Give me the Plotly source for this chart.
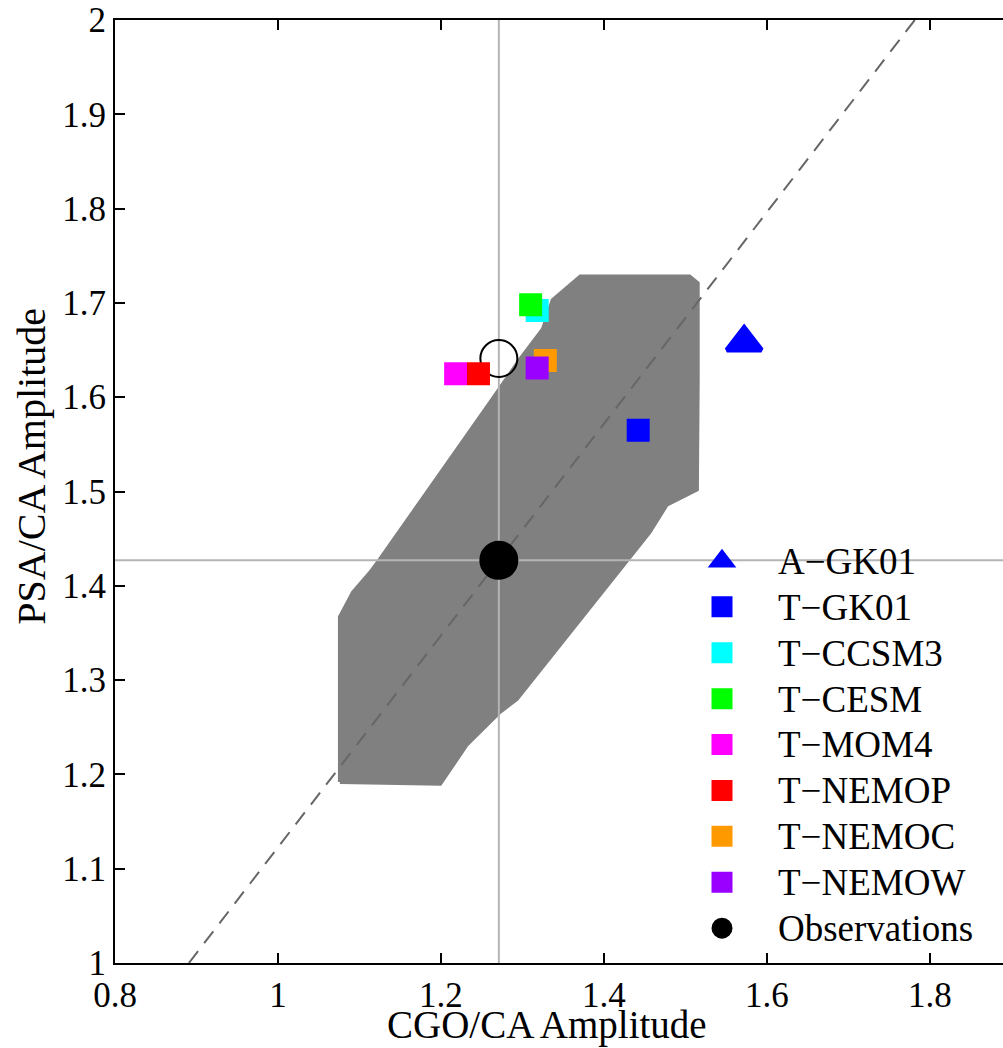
import plotly.graph_objects as go

# ---- data ----
model_names = ["A\u2212GK01", "T\u2212GK01", "T\u2212CCSM3", "T\u2212CESM", "T\u2212MOM4",
               "T\u2212NEMOP", "T\u2212NEMOC", "T\u2212NEMOW"]
model_x = [1.572, 1.442, 1.318, 1.310, 1.218, 1.246, 1.328, 1.318]
model_y = [1.658, 1.565, 1.692, 1.698, 1.625, 1.625, 1.639, 1.631]
model_colors = ["#0000FF", "#0000FF", "#00FFFF", "#00FF00", "#FF00FF",
                "#FF0000", "#FF9900", "#9900FF"]
model_symbols = ["triangle-up"] + ["square"] * 7

obs_name = "Observations"
obs_x = 1.271
obs_y = 1.427
open_x = 1.271
open_y = 1.641

# outline of the dense grey ensemble cloud
cloud_x = [1.076, 1.199, 1.232, 1.272, 1.293, 1.456, 1.477, 1.514, 1.515, 1.515,
           1.505, 1.371, 1.337, 1.325, 1.297, 1.260, 1.125, 1.113, 1.092, 1.076]
cloud_y = [1.192, 1.190, 1.232, 1.266, 1.280, 1.457, 1.486, 1.502, 1.619, 1.721,
           1.728, 1.728, 1.703, 1.672, 1.640, 1.594, 1.428, 1.414, 1.393, 1.367]

x_range = [0.8, 1.8896]
y_range = [1.0, 2.0]
x_ticks = [0.8, 1.0, 1.2, 1.4, 1.6, 1.8]
y_ticks = [1.0, 1.1, 1.2, 1.3, 1.4, 1.5, 1.6, 1.7, 1.8, 1.9, 2.0]
x_title = "CGO/CA Amplitude"
y_title = "PSA/CA Amplitude"

FONT = "Liberation Serif, Times New Roman, serif"
MLW = 5  # marker outline width (same colour as fill)


def leg(txt):
    return f"<span style='font-size:37px'>{txt}</span>"


fig = go.Figure()

# cloud
fig.add_trace(go.Scatter(x=cloud_x + [cloud_x[0]], y=cloud_y + [cloud_y[0]],
                         mode="lines", fill="toself", fillcolor="#808080",
                         line=dict(color="#808080", width=4),
                         showlegend=False, hoverinfo="skip"))

# reference cross lines
fig.add_trace(go.Scatter(x=[obs_x, obs_x], y=y_range, mode="lines",
                         line=dict(color="#B4B4B4", width=2),
                         showlegend=False, hoverinfo="skip"))
fig.add_trace(go.Scatter(x=x_range, y=[obs_y, obs_y], mode="lines",
                         line=dict(color="#B4B4B4", width=2),
                         showlegend=False, hoverinfo="skip"))

# dashed proportional line through observations
ratio = obs_y / obs_x
fig.add_trace(go.Scatter(x=[y_range[0] / ratio, y_range[1] / ratio], y=y_range,
                         mode="lines",
                         line=dict(color="#666666", width=2, dash="15px,10px"),
                         showlegend=False, hoverinfo="skip"))

# open circle
fig.add_trace(go.Scatter(x=[open_x], y=[open_y], mode="markers",
                         marker=dict(symbol="circle-open", size=37,
                                     line=dict(color="black", width=2), color="black"),
                         showlegend=False, hoverinfo="skip"))

for name, xv, yv, c, s in zip(model_names, model_x, model_y, model_colors, model_symbols):
    fig.add_trace(go.Scatter(x=[xv], y=[yv], mode="markers", name=leg(name),
                             marker=dict(symbol=s, color=c,
                                         size=30 if s == "triangle-up" else 18,
                                         line=dict(width=MLW, color=c))))

fig.add_trace(go.Scatter(x=[obs_x], y=[obs_y], mode="markers", name=leg(obs_name),
                         marker=dict(symbol="circle", color="black", size=34,
                                     line=dict(width=MLW, color="black"))))

axis_common = dict(showgrid=False, zeroline=False, showline=True, linecolor="black",
                   linewidth=2, ticks="inside", ticklen=10, tickwidth=2,
                   tickcolor="black", tickfont=dict(family=FONT, size=35, color="black"))

fig.update_layout(
    width=1003, height=1048,
    margin=dict(l=115, r=0, t=20, b=85),
    paper_bgcolor="white", plot_bgcolor="white",
    font=dict(family=FONT, size=35, color="black"),
    xaxis=dict(range=x_range, tickvals=x_ticks, ticktext=[f"{v:g}" for v in x_ticks],
               mirror="ticks", **axis_common),
    yaxis=dict(range=y_range, tickvals=y_ticks, ticktext=[f"{v:g}" for v in y_ticks],
               **axis_common),
    legend=dict(x=0.6205, y=0.456, xanchor="left", yanchor="top",
                bgcolor="rgba(0,0,0,0)", borderwidth=0, itemwidth=102,
                font=dict(family=FONT, size=33, color="black")),
    showlegend=True,
    annotations=[
        dict(text=x_title, xref="paper", yref="paper", x=0.4865, y=-0.066,
             xanchor="center", yanchor="middle", showarrow=False,
             font=dict(family=FONT, size=39, color="black")),
        dict(text=y_title, xref="paper", yref="paper", x=-0.095, y=0.527,
             xanchor="center", yanchor="middle", showarrow=False, textangle=-90,
             font=dict(family=FONT, size=40, color="black")),
    ],
)

fig.write_html("out.html")
